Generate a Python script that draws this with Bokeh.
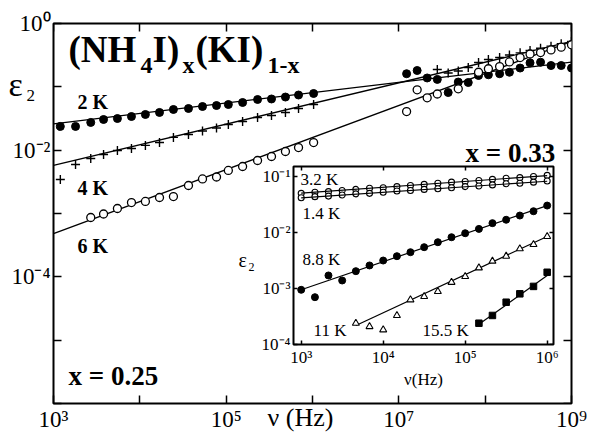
from bokeh.plotting import figure
from bokeh.models import (Range1d, FixedTicker, CustomJSTickFormatter, LogAxis, GridBox, Label)
from bokeh.embed import file_html
from bokeh.resources import INLINE

# ---------------- main panel data (x = 0.25) ----------------
f_low = [1.2e3, 1.8e3, 2.7e3, 3.8e3, 5.5e3, 8.0e3, 1.16e4, 1.69e4, 2.45e4, 3.66e4,
         5.32e4, 7.73e4, 1.06e5, 1.55e5, 2.31e5, 3.35e5, 4.86e5, 6.89e5, 1.03e6]
eps_2K_low = [0.0237, 0.0237, 0.0274, 0.0305, 0.0316, 0.0340, 0.0366, 0.0394, 0.0439, 0.0455,
              0.0489, 0.0507, 0.0526, 0.0566, 0.0631, 0.0643, 0.0690, 0.0743, 0.0785]
eps_4K_low = [0.00344, 0.00594, 0.00738, 0.00853, 0.00989, 0.0106, 0.0119, 0.0132, 0.0159, 0.0177,
              0.0201, 0.0224, 0.0254, 0.0284, 0.0328, 0.0352, 0.0394, 0.0455, 0.0526]
f_6K_low = [2.7e3, 3.8e3, 5.5e3, 8.0e3, 1.16e4, 1.69e4, 2.45e4, 3.66e4, 5.32e4, 7.73e4,
            1.06e5, 1.55e5, 2.31e5, 3.35e5, 4.86e5, 6.89e5, 1.03e6]
eps_6K_low = [0.000865, 0.000982, 0.00120, 0.00149, 0.00155, 0.00179, 0.00185, 0.00277, 0.00351,
              0.00377, 0.00478, 0.00552, 0.00687, 0.00794, 0.00953, 0.0110, 0.0132]

f_2K_high = [1.23e7, 1.63e7, 2.13e7, 2.79e7, 3.73e7, 4.88e7, 6.37e7, 8.38e7, 1.09e8,
             1.47e8, 1.91e8, 2.54e8, 3.31e8, 4.38e8, 5.79e8, 7.60e8, 1.0e9]
eps_2K_high = [0.161, 0.181, 0.138, 0.131, 0.0813, 0.119, 0.117, 0.151, 0.155,
               0.161, 0.170, 0.198, 0.239, 0.245, 0.217, 0.217, 0.198]
f_4K_high = [2.79e7, 3.73e7, 4.88e7, 6.37e7, 8.38e7, 1.09e8, 1.47e8, 1.91e8, 2.54e8,
             3.31e8, 4.38e8, 5.79e8, 7.60e8, 1.0e9]
eps_4K_high = [0.188, 0.165, 0.178, 0.202, 0.242, 0.270, 0.290, 0.318, 0.344,
               0.375, 0.407, 0.439, 0.478, 0.520]
f_6K_high = [1.23e7, 1.63e7, 2.13e7, 2.79e7, 4.88e7, 8.38e7, 1.09e8, 1.47e8, 1.91e8,
             2.54e8, 3.31e8, 4.38e8, 5.79e8, 7.60e8, 1.0e9]
eps_6K_high = [0.0407, 0.0897, 0.0671, 0.0771, 0.0931, 0.170, 0.193, 0.209, 0.247,
               0.290, 0.330, 0.348, 0.382, 0.423, 0.462]

fit_2K_f = [1e3, 1.05e7, 1e9]
fit_2K_eps = [0.0261, 0.119, 0.245]
fit_4K_f = [1e3, 1e9]
fit_4K_eps = [0.00573, 0.520]
fit_6K_f = [1e3, 1e9]
fit_6K_eps = [0.000483, 0.520]

main_x_ticks = [1e3, 1e4, 1e5, 1e6, 1e7, 1e8, 1e9]
main_x_labels = ["10³", "", "10⁵", "", "10⁷", "", "10⁹"]
main_y_ticks = [1e-6, 1e-5, 1e-4, 1e-3, 1e-2, 1e-1, 1.0]
main_y_labels = ["", "", "10⁻⁴", "", "10⁻²", "", "10⁰"]

# ---------------- inset data (x = 0.33) ----------------
inset_f = [1.0e3, 1.47e3, 2.15e3, 3.16e3, 4.64e3, 6.81e3, 1.0e4, 1.47e4, 2.15e4, 3.16e4,
           4.64e4, 6.81e4, 1.0e5, 1.47e5, 2.15e5, 3.16e5, 4.64e5, 6.81e5, 1.0e6]
eps_3p2K = [0.0501, 0.0525, 0.0537, 0.0562, 0.0589, 0.0617, 0.0631, 0.0661, 0.0692, 0.0724,
            0.0759, 0.0794, 0.0813, 0.0851, 0.0891, 0.0933, 0.0955, 0.1000, 0.1047]
eps_1p4K = [0.0417, 0.0437, 0.0447, 0.0468, 0.0490, 0.0501, 0.0525, 0.0550, 0.0562, 0.0589,
            0.0603, 0.0631, 0.0661, 0.0676, 0.0708, 0.0741, 0.0759, 0.0794, 0.0832]
eps_8p8K = [0.000948, 0.000700, 0.00171, 0.00139, 0.00204, 0.00258, 0.00316, 0.00378, 0.00445,
            0.00547, 0.00671, 0.00824, 0.00971, 0.0116, 0.0147, 0.0169, 0.0201, 0.0240, 0.0303]
f_11K = [4.64e3, 6.81e3, 1.0e4, 1.47e4, 2.15e4, 3.16e4, 4.64e4, 6.81e4, 1.0e5, 1.47e5,
         2.15e5, 3.16e5, 4.64e5, 6.81e5, 1.0e6]
eps_11K = [0.000240, 0.000209, 0.000183, 0.000330, 0.000628, 0.000719, 0.000883, 0.00129,
           0.00164, 0.00234, 0.00308, 0.00378, 0.00512, 0.00611, 0.00849]
f_15K = [1.47e5, 2.15e5, 3.16e5, 4.64e5, 6.81e5, 1.0e6]
eps_15K = [0.000240, 0.000330, 0.000569, 0.000804, 0.00109, 0.00195]

fit_3p2K_f = [1e3, 1e6]
fit_3p2K_eps = [0.0504, 0.104]
fit_1p4K_f = [1e3, 1e6]
fit_1p4K_eps = [0.0417, 0.0824]
fit_8p8K_f = [1e3, 1e6]
fit_8p8K_eps = [0.00095, 0.0303]
fit_11K_f = [4.64e3, 1.0e6]
fit_11K_eps = [0.000219, 0.0085]
fit_15K_f = [1.47e5, 1.0e6]
fit_15K_eps = [0.000229, 0.00170]

inset_x_ticks = [1e3, 1e4, 1e5, 1e6]
inset_x_labels = ["10³", "10⁴", "10⁵", "10⁶"]
inset_y_ticks = [1e-4, 1e-3, 1e-2, 1e-1]
inset_y_labels = ["10⁻⁴", "10⁻³", "10⁻²", "10⁻¹"]

SERIF = "Liberation Serif"
FMT_CODE = """
const e = Math.log10(tick);
for (let i = 0; i < vals.length; i++) {
  if (Math.abs(Math.log10(vals[i]) - e) < 1e-6) { return labs[i]; }
}
return '';
"""


def make_fmt(vals, labs):
    return CustomJSTickFormatter(args=dict(vals=vals, labs=labs), code=FMT_CODE)


def style_axis(ax, ticks, labels, size, tick_in, loc=None, show_labels=True):
    ax.ticker = FixedTicker(ticks=ticks, minor_ticks=[])
    if loc is not None:
        ax.fixed_location = loc
    if show_labels:
        ax.formatter = make_fmt(ticks, labels)
        ax.major_label_text_font = SERIF
        ax.major_label_text_font_size = size
        ax.major_label_text_color = "black"
        ax.major_label_standoff = 3
    else:
        ax.formatter = CustomJSTickFormatter(code="return '';")
        ax.major_label_text_font_size = "0px"
        ax.major_label_standoff = 0
    ax.major_tick_in = tick_in
    ax.major_tick_out = 0
    ax.minor_tick_in = 0
    ax.minor_tick_out = 0
    ax.minor_tick_line_color = None
    ax.axis_line_color = None
    ax.major_tick_line_color = "black"
    ax.major_tick_line_width = 1.5


# ---------------- main figure ----------------
X0, X1 = 1e3, 1e9
Y0, Y1 = 1e-6, 1.0
p = figure(width=593, height=436, x_axis_type="log", y_axis_type="log",
           x_range=Range1d(X0, X1), y_range=Range1d(Y0, Y1),
           output_backend="svg", toolbar_location=None,
           min_border_left=53, min_border_right=22, min_border_top=23, min_border_bottom=33)
p.frame_align = False
p.title.visible = False
p.grid.visible = False
p.outline_line_color = "black"
p.outline_line_width = 2
p.background_fill_color = "white"
p.border_fill_color = "white"

style_axis(p.xaxis[0], main_x_ticks, main_x_labels, "23px", 8)
style_axis(p.yaxis[0], main_y_ticks, main_y_labels, "23px", 8)
top_ax = LogAxis()
right_ax = LogAxis()
p.add_layout(top_ax, "above")
p.add_layout(right_ax, "right")
style_axis(top_ax, main_x_ticks, main_x_labels, "0px", 8, Y1, show_labels=False)
style_axis(right_ax, main_y_ticks, main_y_labels, "0px", 8, X1, show_labels=False)

LW = 1.3
p.line(fit_2K_f, fit_2K_eps, line_color="black", line_width=LW)
p.line(fit_4K_f, fit_4K_eps, line_color="black", line_width=LW)
p.line(fit_6K_f, fit_6K_eps, line_color="black", line_width=LW)

p.scatter(f_low, eps_2K_low, marker="circle", size=8, fill_color="black", line_color="black")
p.scatter(f_2K_high, eps_2K_high, marker="circle", size=8, fill_color="black", line_color="black")
p.scatter(f_low, eps_4K_low, marker="cross", size=9, line_color="black", line_width=1.4)
p.scatter(f_4K_high, eps_4K_high, marker="cross", size=9, line_color="black", line_width=1.4)
p.scatter(f_6K_low, eps_6K_low, marker="circle", size=8, fill_color="white", line_color="black", line_width=1.3)
p.scatter(f_6K_high, eps_6K_high, marker="circle", size=8, fill_color="white", line_color="black", line_width=1.3)


def mx(px):
    return 10 ** (3 + (px - 53) / 86.33)


def my(py):
    return 10 ** (-(py - 23) / 63.33)


def add_text(fig, fx, fy, px, py, text, size, bold=False, align="left"):
    # py is the wanted baseline in pixels; lift by part of the font size to
    # compensate for how the renderer places the baseline
    lift = 0.27 * size
    fig.add_layout(Label(x=fx(px), y=fy(py - lift), text=text, text_font=SERIF,
                         text_font_size=f"{size}px",
                         text_font_style="bold" if bold else "normal",
                         text_color="black", text_baseline="alphabetic", text_align=align))


# formula title
for px, t in [(68, "(NH"), (152, "I)"), (195, "(KI)")]:
    add_text(p, mx, my, px, 59, t, 37, bold=True)
for px, t in [(140, "4"), (182, "x"), (267, "1-x")]:
    add_text(p, mx, my, px, 71, t, 24, bold=True)

add_text(p, mx, my, 77, 107, "2 K", 20, bold=True)
add_text(p, mx, my, 77, 193, "4 K", 20, bold=True)
add_text(p, mx, my, 77, 251, "6 K", 20, bold=True)
add_text(p, mx, my, 68, 383, "x = 0.25", 27, bold=True)

# ---------------- inset figure ----------------
IX0, IX1 = 10 ** 2.906, 10 ** 6.077
IY0, IY1 = 1e-4, 10 ** -0.821
ins = figure(frame_width=260, frame_height=178, x_axis_type="log", y_axis_type="log",
             x_range=Range1d(IX0, IX1), y_range=Range1d(IY0, IY1),
             output_backend="svg", toolbar_location=None,
             min_border_left=53, min_border_right=7, min_border_top=6, min_border_bottom=44)
ins.frame_align = False
ins.title.visible = False
ins.grid.visible = False
ins.outline_line_color = "black"
ins.outline_line_width = 2
ins.background_fill_color = "white"
ins.border_fill_color = None
ins.margin = (160, 0, 0, 240)

style_axis(ins.xaxis[0], inset_x_ticks, inset_x_labels, "17px", 4)
style_axis(ins.yaxis[0], inset_y_ticks, inset_y_labels, "17px", 4)
ins.xaxis[0].axis_label = "ν(Hz)"
ins.xaxis[0].axis_label_text_font = SERIF
ins.xaxis[0].axis_label_text_font_size = "17px"
ins.xaxis[0].axis_label_text_font_style = "normal"
ins.xaxis[0].axis_label_text_color = "black"
ins.xaxis[0].axis_label_standoff = 0
itop = LogAxis()
iright = LogAxis()
ins.add_layout(itop, "above")
ins.add_layout(iright, "right")
style_axis(itop, inset_x_ticks, inset_x_labels, "0px", 4, IY1, show_labels=False)
style_axis(iright, inset_y_ticks, inset_y_labels, "0px", 4, IX1, show_labels=False)

ILW = 1.2
ins.line(fit_8p8K_f, fit_8p8K_eps, line_color="black", line_width=ILW)
ins.line(fit_11K_f, fit_11K_eps, line_color="black", line_width=ILW)
ins.line(fit_15K_f, fit_15K_eps, line_color="black", line_width=ILW)

ins.scatter(inset_f, eps_3p2K, marker="circle", size=6, fill_color="white", line_color="black", line_width=1.1)
ins.scatter(inset_f, eps_1p4K, marker="circle", size=6, fill_color="white", line_color="black", line_width=1.1)
ins.line(fit_3p2K_f, fit_3p2K_eps, line_color="black", line_width=ILW)
ins.line(fit_1p4K_f, fit_1p4K_eps, line_color="black", line_width=ILW)
ins.scatter(inset_f, eps_8p8K, marker="circle", size=7, fill_color="black", line_color="black")
ins.scatter(f_11K, eps_11K, marker="triangle", size=7, fill_color="white", line_color="black", line_width=1.1)
ins.scatter(f_15K, eps_15K, marker="square", size=6.5, fill_color="black", line_color="black")


def ix(px):
    return 10 ** (3 + (px - 300.7) / 82)


def iy(py):
    return 10 ** (-1 - (py - 176) / 56)


add_text(ins, ix, iy, 300, 184, "3.2 K", 17)
add_text(ins, ix, iy, 302, 218, "1.4 K", 17)
add_text(ins, ix, iy, 302, 264, "8.8 K", 17)
add_text(ins, ix, iy, 313, 335, "11 K", 17)
add_text(ins, ix, iy, 422, 335, "15.5 K", 17)

# ---------------- transparent overlay for titles outside the frames ----------------
ov = figure(width=593, height=436, x_range=Range1d(0, 593), y_range=Range1d(436, 0),
            output_backend="svg", toolbar_location=None, min_border=0)
ov.frame_align = False
ov.title.visible = False
ov.axis.visible = False
ov.grid.visible = False
ov.outline_line_color = None
ov.background_fill_color = None
ov.border_fill_color = None


def pix(v):
    return v


add_text(ov, pix, pix, 8, 93, "ε", 34)
add_text(ov, pix, pix, 26, 100, "2", 17)
add_text(ov, pix, pix, 300, 424, "ν (Hz)", 26, align="center")
add_text(ov, pix, pix, 238, 265, "ε", 20)
add_text(ov, pix, pix, 248, 270, "2", 12)
add_text(ov, pix, pix, 465, 160, "x = 0.33", 27, bold=True)

layout = GridBox(children=[(p, 0, 0), (ins, 0, 0), (ov, 0, 0)])

with open("out.html", "w") as fh:
    fh.write(file_html(layout, INLINE))
